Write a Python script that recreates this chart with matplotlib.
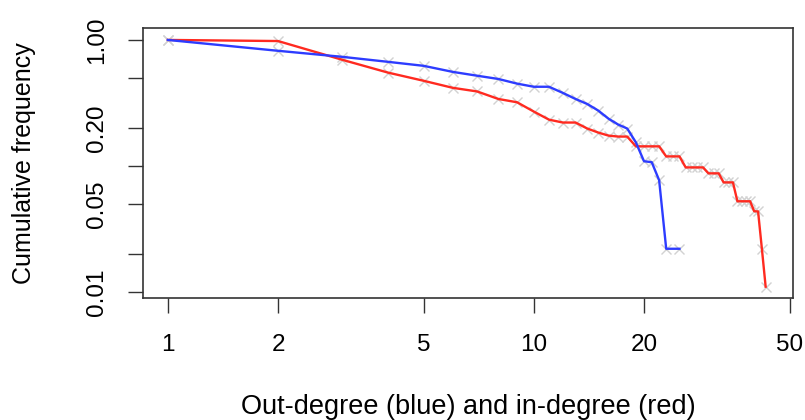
import matplotlib.pyplot as plt
from matplotlib.ticker import FixedLocator, NullLocator

plt.rcParams['font.family'] = ['Liberation Sans', 'DejaVu Sans']

# out-degree (blue)
out_deg = [1, 2, 3, 4, 5, 6, 7, 8, 9, 10, 11, 12, 13, 14, 15, 16, 17, 18,
           19, 20, 21, 22, 23, 25]
out_freq = [1.0, 0.82, 0.734, 0.67, 0.623, 0.558, 0.52, 0.49, 0.45, 0.425,
            0.425, 0.38, 0.34, 0.31, 0.275, 0.237, 0.213, 0.198, 0.154,
            0.109, 0.107, 0.077, 0.022, 0.022]

# in-degree (red)
in_deg = [1, 2, 3, 4, 5, 6, 7, 8, 9, 10, 11, 12, 13, 14, 15, 16, 17, 18,
          19, 20, 21, 22, 23, 24, 25, 26, 27, 28, 29, 30, 31, 32, 33, 34, 35,
          36, 37, 38, 39, 40, 41, 42, 43]
in_freq = [1.0, 0.98, 0.695, 0.55, 0.474, 0.417, 0.39, 0.34, 0.32, 0.27,
           0.233, 0.221, 0.221, 0.198, 0.184, 0.174, 0.171, 0.171, 0.143,
           0.143, 0.143, 0.143, 0.119, 0.119, 0.119, 0.0973, 0.0973, 0.0973,
           0.0973, 0.0873, 0.0873, 0.0873, 0.074, 0.074, 0.074, 0.0524,
           0.0524, 0.0524, 0.0524, 0.0437, 0.0435, 0.0219, 0.011]

x_ticks = [1, 2, 5, 10, 20, 50]
x_labels = ["1", "2", "5", "10", "20", "50"]
y_ticks = [1.0, 0.5, 0.2, 0.1, 0.05, 0.02, 0.01]
y_labels = ["1.00", "", "0.20", "", "0.05", "", "0.01"]

fig = plt.figure(figsize=(8.05, 4.2), dpi=100)
ax = fig.add_axes([0.1776, 0.29, 0.8074, 0.6434])

# light grey crosses under the lines
ax.plot(out_deg, out_freq, ls='none', marker='x', ms=7.5, mew=1.0,
        color='#d2d2d2', zorder=1)
ax.plot(in_deg, in_freq, ls='none', marker='x', ms=7.5, mew=1.0,
        color='#d2d2d2', zorder=1)
ax.plot(in_deg, in_freq, color='#ff2a20', lw=1.7, zorder=2)
ax.plot(out_deg, out_freq, color='#2d3cff', lw=1.7, zorder=3)

ax.set_xscale('log')
ax.set_yscale('log')
ax.set_xlim(10 ** -0.068, 10 ** 1.708)
ax.set_ylim(10 ** -2.05, 10 ** 0.095)

ax.xaxis.set_major_locator(FixedLocator(x_ticks))
ax.xaxis.set_minor_locator(NullLocator())
ax.set_xticklabels(x_labels)
ax.yaxis.set_major_locator(FixedLocator(y_ticks))
ax.yaxis.set_minor_locator(NullLocator())
ax.set_yticklabels(y_labels, rotation=90, va='center')

ax.tick_params(axis='both', length=11, width=1, labelsize=17.5, color='#333333')
ax.tick_params(axis='x', pad=15)
ax.tick_params(axis='y', pad=14)
for s in ax.spines.values():
    s.set_linewidth(1.2)
    s.set_color('#333333')

ax.set_xlabel("Out-degree (blue) and in-degree (red)", fontsize=19.5, labelpad=27)
ax.set_ylabel("Cumulative frequency", fontsize=18, labelpad=36)

fig.savefig('out.png', dpi=100)
